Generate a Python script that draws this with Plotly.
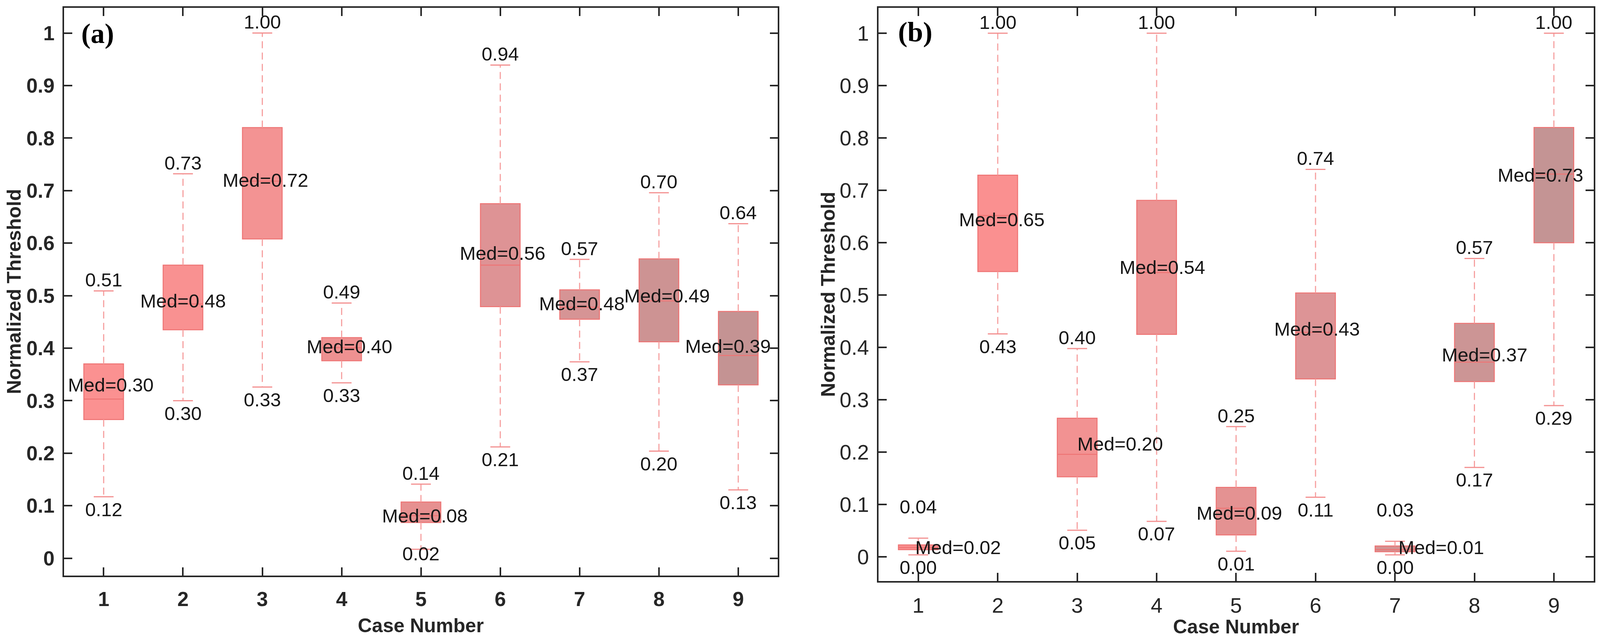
import plotly.graph_objects as go

# ---------------- data ----------------
cases = [1, 2, 3, 4, 5, 6, 7, 8, 9]

a_lo = [0.117, 0.300, 0.326, 0.334, 0.017, 0.212, 0.374, 0.204, 0.130]
a_q1 = [0.264, 0.435, 0.608, 0.376, 0.068, 0.479, 0.455, 0.412, 0.330]
a_med = [0.303, 0.484, 0.718, 0.401, 0.081, 0.558, 0.478, 0.490, 0.386]
a_q3 = [0.370, 0.558, 0.820, 0.420, 0.107, 0.675, 0.511, 0.570, 0.470]
a_hi = [0.509, 0.732, 1.000, 0.486, 0.141, 0.939, 0.569, 0.696, 0.637]

b_lo = [0.004, 0.426, 0.051, 0.068, 0.011, 0.114, 0.004, 0.171, 0.289]
b_q1 = [0.014, 0.545, 0.153, 0.425, 0.042, 0.340, 0.010, 0.335, 0.600]
b_med = [0.018, 0.652, 0.196, 0.543, 0.093, 0.429, 0.014, 0.372, 0.731]
b_q3 = [0.023, 0.729, 0.265, 0.681, 0.133, 0.504, 0.021, 0.446, 0.820]
b_hi = [0.036, 1.000, 0.398, 1.000, 0.249, 0.740, 0.030, 0.570, 1.000]

y_tick_vals = [0, 0.1, 0.2, 0.3, 0.4, 0.5, 0.6, 0.7, 0.8, 0.9, 1.0]
y_tick_text = ["0", "0.1", "0.2", "0.3", "0.4", "0.5", "0.6", "0.7", "0.8", "0.9", "1"]

# ---------------- styles / layout helpers ----------------
fill_a = ["#FB9191", "#F99191", "#F39393", "#EE9191", "#E69090",
          "#DE9395", "#D69495", "#CD9393", "#C49393"]
fill_b = ["#FA8E8E", "#FA9090", "#F29292", "#EB9393", "#E49292",
          "#DD9496", "#D39393", "#CC9595", "#C49494"]
EDGE = "#EE7474"
WHISK = "#F6A2A2"
CAP = "#F39090"
AXC = "#262626"
TXT = "#161616"
SANS = "Liberation Sans, Arial, Helvetica, sans-serif"
SERIF = "Liberation Serif, Times New Roman, serif"

# median-label offsets (layout only)
med_dx_a = [0.09, 0.0, 0.04, 0.10, 0.05, 0.03, 0.03, 0.10, -0.13]
med_dy_a = [0.027, 0.006, 0.002, 0.002, 0.0, 0.023, 0.007, 0.010, 0.018]
med_dx_b = [0.50, 0.05, 0.54, 0.07, 0.04, 0.02, 0.58, 0.13, -0.17]
med_dy_b = [0.0, -0.008, 0.020, 0.010, -0.009, 0.006, 0.004, 0.014, -0.002]

fig = go.Figure()
annotations = []


def add_panel(xa, ya, lo, q1, med, q3, hi, fills, mdx, mdy, low_floor):
    xref = "x" if xa == "x" else "x2"
    yref = "y" if ya == "y" else "y2"
    wx, wy = [], []
    cx, cy = [], []
    for i, c in enumerate(cases):
        wx += [c, c, None, c, c, None]
        wy += [q3[i], hi[i], None, q1[i], lo[i], None]
        cx += [c - 0.125, c + 0.125, None, c - 0.125, c + 0.125, None]
        cy += [hi[i], hi[i], None, lo[i], lo[i], None]
    fig.add_trace(go.Scatter(x=wx, y=wy, mode="lines", xaxis=xa, yaxis=ya,
                             line=dict(color=WHISK, width=3, dash="18px,11px"),
                             hoverinfo="skip", showlegend=False))
    fig.add_trace(go.Scatter(x=cx, y=cy, mode="lines", xaxis=xa, yaxis=ya,
                             line=dict(color=CAP, width=3),
                             hoverinfo="skip", showlegend=False))
    for i, c in enumerate(cases):
        fig.add_trace(go.Box(x=[c], q1=[q1[i]], median=[med[i]], q3=[q3[i]],
                             lowerfence=[q1[i]], upperfence=[q3[i]],
                             width=0.5, whiskerwidth=0, boxpoints=False,
                             fillcolor=fills[i], line=dict(color=EDGE, width=2.5),
                             xaxis=xa, yaxis=ya, hoverinfo="skip", showlegend=False))
    for i, c in enumerate(cases):
        tiny = (q3[i] - q1[i]) < 0.02
        up_y = hi[i] + (0.06 if tiny else 0.021)
        lo_y = lo[i] - 0.024
        if low_floor is not None:
            lo_y = max(lo_y, low_floor)
        f = dict(family=SANS, size=49, color=TXT)
        annotations.append(dict(x=c, y=up_y, xref=xref, yref=yref, text=f"{hi[i]:.2f}",
                                showarrow=False, font=f, xanchor="center", yanchor="middle"))
        annotations.append(dict(x=c, y=lo_y, xref=xref, yref=yref, text=f"{lo[i]:.2f}",
                                showarrow=False, font=f, xanchor="center", yanchor="middle"))
        annotations.append(dict(x=c + mdx[i], y=med[i] + mdy[i], xref=xref, yref=yref,
                                text=f"Med={med[i]:.2f}", showarrow=False, font=f,
                                xanchor="center", yanchor="middle"))


add_panel("x", "y", a_lo, a_q1, a_med, a_q3, a_hi, fill_a, med_dx_a, med_dy_a, 0.009)
add_panel("x2", "y2", b_lo, b_q1, b_med, b_q3, b_hi, fill_b, med_dx_b, med_dy_b, None)


def xaxis_cfg(domain, anchor, bold):
    return dict(domain=domain, anchor=anchor, range=[0.5, 9.5], tickvals=cases,
                ticktext=[(f"<b>{c}</b>" if bold else str(c)) for c in cases],
                ticks="inside", ticklen=21, tickwidth=3.5, tickcolor=AXC,
                showline=True, linewidth=3.5, linecolor=AXC, mirror="ticks",
                showgrid=False, zeroline=False, ticklabelstandoff=12,
                tickfont=dict(family=SANS, size=52 if bold else 54, color=AXC))


def yaxis_cfg(domain, anchor, rng, bold):
    return dict(domain=domain, anchor=anchor, range=rng, tickvals=y_tick_vals,
                ticktext=[(f"<b>{t}</b>" if bold else t) for t in y_tick_text],
                ticks="inside", ticklen=21, tickwidth=3.5, tickcolor=AXC,
                showline=True, linewidth=3.5, linecolor=AXC, mirror="ticks",
                showgrid=False, zeroline=False, ticklabelstandoff=10,
                tickfont=dict(family=SANS, size=52 if bold else 54, color=AXC))


title_font = dict(family=SANS, size=50, color=AXC)
annotations += [
    dict(x=0.0087, y=0.546, xref="paper", yref="paper", text="<b>Normalized Threshold</b>",
         textangle=-90, showarrow=False, font=title_font, xanchor="center", yanchor="middle"),
    dict(x=0.5175, y=0.5417, xref="paper", yref="paper", text="<b>Normalized Threshold</b>",
         textangle=-90, showarrow=False, font=title_font, xanchor="center", yanchor="middle"),
    dict(x=0.263, y=0.0256, xref="paper", yref="paper", text="<b>Case Number</b>",
         showarrow=False, font=title_font, xanchor="center", yanchor="middle"),
    dict(x=0.7725, y=0.0237, xref="paper", yref="paper", text="<b>Case Number</b>",
         showarrow=False, font=title_font, xanchor="center", yanchor="middle"),
    dict(x=0.0232, y=0.9546, xref="x domain", yref="y domain", text="<b>(a)</b>",
         showarrow=False, font=dict(family=SERIF, size=72, color="#000000"),
         xanchor="left", yanchor="middle"),
    dict(x=0.0263, y=0.958, xref="x2 domain", yref="y2 domain", text="<b>(b)</b>",
         showarrow=False, font=dict(family=SERIF, size=72, color="#000000"),
         xanchor="left", yanchor="middle"),
]

fig.update_layout(
    autosize=True,
    margin=dict(l=0, r=0, t=0, b=0),
    paper_bgcolor="white", plot_bgcolor="white",
    showlegend=False,
    boxmode="overlay",
    xaxis=xaxis_cfg([0.0400, 0.4862], "y", True),
    yaxis=yaxis_cfg([0.1035, 0.9878], "x", [-0.033, 1.048], True),
    xaxis2=xaxis_cfg([0.5491, 0.9960], "y2", False),
    yaxis2=yaxis_cfg([0.0949, 0.9878], "x2", [-0.046, 1.0485], False),
    annotations=annotations,
)

post = ("document.documentElement.style.margin='0';"
        "document.body.style.margin='0';document.body.style.padding='0';"
        "document.body.style.overflow='hidden';"
        "document.documentElement.style.overflow='hidden';"
        "var gd=document.getElementById('{plot_id}');"
        "Plotly.Plots.resize(gd);")

fig.write_html("out.html", default_width="100vw", default_height="100vh",
               config={"responsive": True, "displayModeBar": False},
               post_script=post)
